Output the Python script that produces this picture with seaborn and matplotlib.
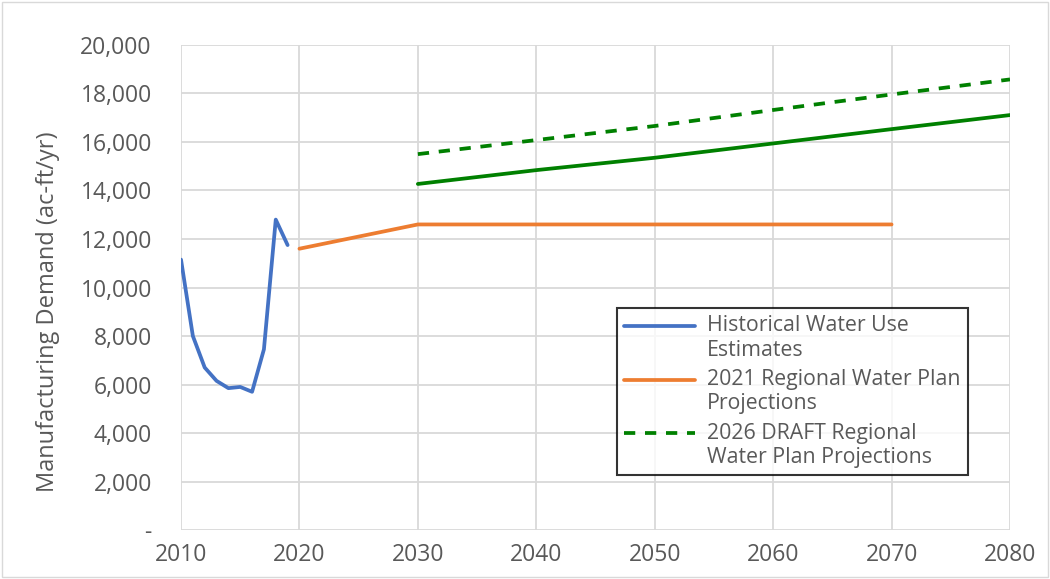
import pandas as pd
import matplotlib.pyplot as plt
import seaborn as sns
from matplotlib.ticker import FuncFormatter

# Historical water use estimates
hist_years = [2010, 2011, 2012, 2013, 2014, 2015, 2016, 2017, 2018, 2019]
hist_vals = [11150, 8000, 6700, 6150, 5850, 5900, 5700, 7450, 12800, 11750]

# 2021 regional water plan projections
rwp21_years = [2020, 2030, 2040, 2050, 2060, 2070]
rwp21_vals = [11600, 12600, 12600, 12600, 12600, 12600]

# 2026 draft regional water plan projections (two scenarios)
draft_years = [2030, 2040, 2050, 2060, 2070, 2080]
draft_low = [14270, 14840, 15350, 15940, 16530, 17110]
draft_high = [15500, 16080, 16660, 17320, 17960, 18580]

labels = ["Historical Water Use\nEstimates",
          "2021 Regional Water Plan\nProjections",
          "2026 DRAFT Regional\nWater Plan Projections"]

sns.set_style("white")
plt.rcParams["font.family"] = ["Open Sans", "DejaVu Sans"]
grey = "#595959"

fig = plt.figure(figsize=(10.5, 5.79), dpi=100)
ax = fig.add_axes([0.1724, 0.0846, 0.7895, 0.8377])

hist = pd.DataFrame({"year": hist_years, "val": hist_vals})
rwp21 = pd.DataFrame({"year": rwp21_years, "val": rwp21_vals})
low = pd.DataFrame({"year": draft_years, "val": draft_low})
high = pd.DataFrame({"year": draft_years, "val": draft_high})

lw = 2.7
sns.lineplot(data=hist, x="year", y="val", ax=ax, color="#4472c4", lw=lw,
             label=labels[0])
sns.lineplot(data=rwp21, x="year", y="val", ax=ax, color="#ed7d31", lw=lw,
             label=labels[1])
sns.lineplot(data=high, x="year", y="val", ax=ax, color="#008000", lw=lw,
             linestyle=(0, (3, 2.6)), label=labels[2])
sns.lineplot(data=low, x="year", y="val", ax=ax, color="#008000", lw=lw)

ax.set_xlim(2010, 2080)
ax.set_ylim(0, 20000)
ax.set_xticks(range(2010, 2081, 10))
ax.set_yticks(range(0, 20001, 2000))
ax.yaxis.set_major_formatter(FuncFormatter(lambda v, p: "-" if v == 0 else f"{v:,.0f}"))
ax.grid(True, color="#d9d9d9", lw=1.3)
for s in ax.spines.values():
    s.set_visible(False)
ax.tick_params(axis="both", length=0, labelsize=16.5, colors=grey)
ax.tick_params(axis="y", pad=21)
ax.tick_params(axis="x", pad=9)
ax.set_xlabel("")
ax.set_ylabel("Manufacturing Demand (ac-ft/yr)", fontsize=17, color=grey)
ax.yaxis.set_label_coords(-0.146, 0.449)

leg = ax.legend(loc="upper left", bbox_to_anchor=(0.526, 0.458), fontsize=15.3,
                frameon=True, fancybox=False, handlelength=3.3, handletextpad=0.6,
                labelspacing=0.4, borderpad=0.35, borderaxespad=0)
leg.get_frame().set_edgecolor("black")
leg.get_frame().set_linewidth(1.5)
for t in leg.get_texts():
    t.set_color(grey)
# line up each legend key with the first line of its label, as in the original
for ln in leg.get_lines():
    ln.set_ydata([y + 9 for y in ln.get_ydata()])

fig.patches.append(plt.Rectangle((0.002, 0.003), 0.996, 0.994, transform=fig.transFigure,
                                 fill=False, edgecolor="#d9d9d9", lw=1))

fig.savefig("out.png", dpi=100)
